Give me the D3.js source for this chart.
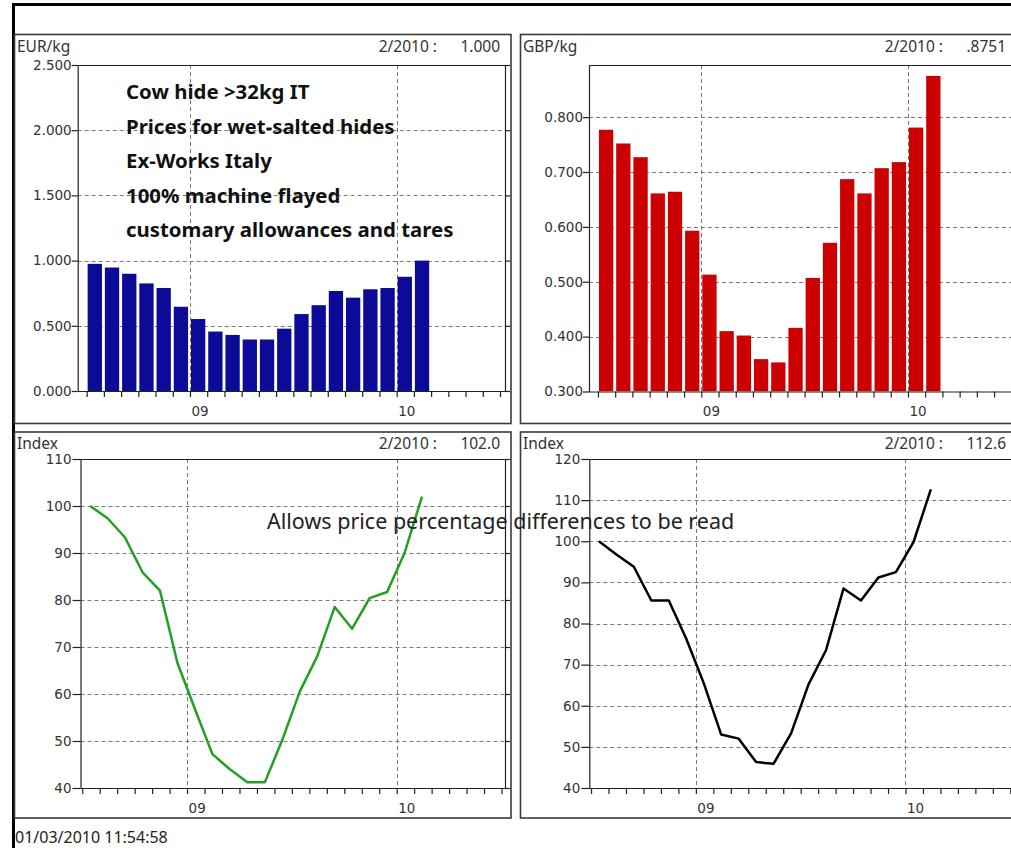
<!DOCTYPE html>
<html><head><meta charset="utf-8">
<script src="https://cdn.jsdelivr.net/npm/d3@7"></script>
<style>
html,body{margin:0;padding:0;background:#fff;}
svg{display:block;}
</style></head>
<body>
<svg id="chart" width="1011" height="848"></svg>
<script>
// ---- data ----
const months = ["2008-07","2008-08","2008-09","2008-10","2008-11","2008-12","2009-01","2009-02","2009-03","2009-04","2009-05","2009-06","2009-07","2009-08","2009-09","2009-10","2009-11","2009-12","2010-01","2010-02"];
const eurPrice = [0.975,0.947,0.899,0.825,0.790,0.646,0.552,0.456,0.430,0.395,0.395,0.478,0.590,0.658,0.767,0.716,0.780,0.790,0.876,1.000];
const gbpPrice = [0.777,0.752,0.727,0.661,0.664,0.593,0.513,0.410,0.402,0.359,0.353,0.416,0.507,0.571,0.687,0.661,0.707,0.718,0.781,0.8751];
const eurIndex = [100,97.4,93.3,85.9,82.0,66.6,56.8,47.2,44.0,41.2,41.2,50.2,60.5,68.0,78.5,73.9,80.4,81.7,90.0,102.0];
const gbpIndex = [100,96.8,93.8,85.6,85.6,76.3,65.5,53.0,52.0,46.3,45.9,53.3,65.2,73.5,88.5,85.6,91.2,92.5,99.7,112.6];
const eurTicks = [0,0.5,1.0,1.5,2.0,2.5];
const gbpTicks = [0.3,0.4,0.5,0.6,0.7,0.8];
const idxTicksL = [40,50,60,70,80,90,100,110];
const idxTicksR = [40,50,60,70,80,90,100,110,120];
const xLabelMonths = [6,18];      // index from Jul 2008
const xLabels = ["09","10"];
const axisMonthCount = 25;        // Jul 2008 .. Jul 2010
const noteLines = ["Cow hide >32kg IT","Prices for wet-salted hides","Ex-Works Italy","100% machine flayed","customary allowances and tares"];
const noteIndex = "Allows price percentage differences to be read";
const stamp = "01/03/2010 11:54:58";
const panels = [
  {unit:"EUR/kg", last:"1.000", kind:"bar", values:eurPrice, ticks:eurTicks, fmt:d3.format(".3f"), color:"#0b0b98"},
  {unit:"GBP/kg", last:".8751", kind:"bar", values:gbpPrice, ticks:gbpTicks, fmt:d3.format(".3f"), color:"#cc0000"},
  {unit:"Index", last:"102.0", kind:"line", values:eurIndex, ticks:idxTicksL, fmt:d3.format("d"), color:"#22a022"},
  {unit:"Index", last:"112.6", kind:"line", values:gbpIndex, ticks:idxTicksR, fmt:d3.format("d"), color:"#000000"}
];

// ---- layout ----
const svg = d3.select("#chart");
const boxes = [
  {px:14.5, py:34.5, pw:496.5, ph:389, l:77.7, r:505, t:65, b:391, xd:[-0.52,24.29], ts:6, pad:0},
  {px:520.5, py:34.5, pw:520, ph:389, l:589, r:1016.3, t:65, b:391.5, xd:[-0.52,24.29], ts:6, pad:0},
  {px:14.5, py:432, pw:496.5, ph:386, l:80.5, r:505, t:459, b:788, xd:[-0.1,24.2], ts:8, pad:1},
  {px:520.5, py:432, pw:520, ph:386, l:589.3, r:1013.8, t:459, b:788, xd:[-0.1,24.2], ts:8, pad:1}
];
const TICKFONT = "'DejaVu Sans', Verdana, sans-serif";
const HFONT = "'Noto Sans', 'Open Sans', sans-serif";

// outer frame
svg.append("rect").attr("x",13.5).attr("y",4.5).attr("width",1100).attr("height",900)
  .attr("fill","none").attr("stroke","#000").attr("stroke-width",3);

panels.forEach((p,k)=>{
  const B = boxes[k];
  const g = svg.append("g");
  g.append("rect").attr("x",B.px).attr("y",B.py).attr("width",B.pw).attr("height",B.ph)
    .attr("fill","#fff").attr("stroke","#3a3a3a").attr("stroke-width",1.6);
  // header
  const hx = B.px - 14.5;
  g.append("text").attr("x",hx+17).attr("y",B.py+17).text(p.unit)
    .attr("font-family",HFONT).attr("font-size",15.5).attr("fill","#333");
  g.append("text").attr("x",hx+437).attr("y",B.py+17).attr("text-anchor","end").text("2/2010 :")
    .attr("font-family",HFONT).attr("font-size",15.5).attr("fill","#333");
  g.append("text").attr("x",hx+500).attr("y",B.py+17).attr("text-anchor","end").text(p.last)
    .attr("font-family",HFONT).attr("font-size",15.5).attr("fill","#333");

  const x = d3.scaleLinear().domain(B.xd).range([B.l,B.r]);
  const dom = p.kind==="bar" ? [p.ticks[0], k===1 ? 0.895 : p.ticks[p.ticks.length-1]] : [p.ticks[0], p.ticks[p.ticks.length-1]];
  const y = d3.scaleLinear().domain(dom).range([B.b,B.t]);

  const clipId = "clip"+k;
  g.append("clipPath").attr("id",clipId).append("rect")
    .attr("x",B.l).attr("y",B.t).attr("width",B.r-B.l).attr("height",B.b-B.t);

  // grid
  const grid = g.append("g").attr("stroke","#7a7a7a").attr("stroke-width",1).attr("stroke-dasharray","4,3");
  p.ticks.filter(v=>v>dom[0] && v<dom[1]).forEach(v=>{
    grid.append("line").attr("x1",B.l).attr("x2",B.r).attr("y1",Math.round(y(v))+0.5).attr("y2",Math.round(y(v))+0.5);
  });
  xLabelMonths.forEach(m=>{
    grid.append("line").attr("x1",Math.round(x(m))+0.5).attr("x2",Math.round(x(m))+0.5).attr("y1",B.t).attr("y2",B.b);
  });

  // marks
  const marks = g.append("g").attr("clip-path",`url(#${clipId})`);
  if(p.kind==="bar"){
    const bw = (x(1)-x(0))*0.83;
    marks.selectAll("rect").data(p.values).join("rect")
      .attr("x",(d,i)=>x(i)+1).attr("width",bw)
      .attr("y",d=>y(d)).attr("height",d=>y(dom[0])-y(d))
      .attr("fill",p.color);
  } else {
    const line = d3.line().x((d,i)=>x(i+0.45)).y(d=>y(d));
    marks.append("path").datum(p.values).attr("d",line)
      .attr("fill","none").attr("stroke",p.color).attr("stroke-width",2.5).attr("stroke-linejoin","round");
  }

  // plot frame (top + right)
  g.append("line").attr("x1",B.l).attr("x2",B.r).attr("y1",B.t+0.5).attr("y2",B.t+0.5).attr("stroke","#222").attr("stroke-width",1.2);
  const ar = g.append("g").attr("transform",`translate(${B.r},0)`)
    .call(d3.axisRight(y).tickValues(p.ticks).tickSize(5).tickSizeOuter(0).tickFormat(""));
  ar.selectAll("path,line").attr("stroke","#222").attr("stroke-width",1.2);
  const al = g.append("g").attr("transform",`translate(${B.l},0)`)
    .call(d3.axisLeft(y).tickValues(p.ticks).tickSize(B.ts).tickSizeOuter(0).tickPadding(B.pad).tickFormat(p.fmt));
  al.selectAll("path,line").attr("stroke","#222").attr("stroke-width",1.2);
  al.selectAll("text").attr("font-family",TICKFONT).attr("font-size",13.5).attr("fill","#333");
  const ab = g.append("g").attr("transform",`translate(0,${B.b})`)
    .call(d3.axisBottom(x).tickValues(d3.range(axisMonthCount)).tickSize(6).tickSizeOuter(0).tickPadding(9)
      .tickFormat(i=>{const j = xLabelMonths.indexOf(i); return j>=0 ? xLabels[j] : "";}));
  ab.selectAll("path,line").attr("stroke","#222").attr("stroke-width",1.2);
  ab.selectAll("text").attr("font-family",TICKFONT).attr("font-size",13.5).attr("fill","#333")
    .attr("text-anchor","start").attr("x",1);
  ab.select("path.domain").attr("d",`M${B.l},0.5H${B.r}`);
});

// annotations
const note = svg.append("g").attr("font-family",HFONT).attr("font-weight","bold").attr("font-size",20.4).attr("fill","#111");
noteLines.forEach((t,i)=>{
  note.append("text").attr("x",126).attr("y",99+i*34.5).text(t);
});
svg.append("text").attr("x",267).attr("y",529).text(noteIndex)
  .attr("font-family",HFONT).attr("font-size",21.5).attr("fill","#222");
svg.append("text").attr("x",15).attr("y",843).text(stamp)
  .attr("font-family",HFONT).attr("font-size",16).attr("fill","#222");
</script>
</body></html>
